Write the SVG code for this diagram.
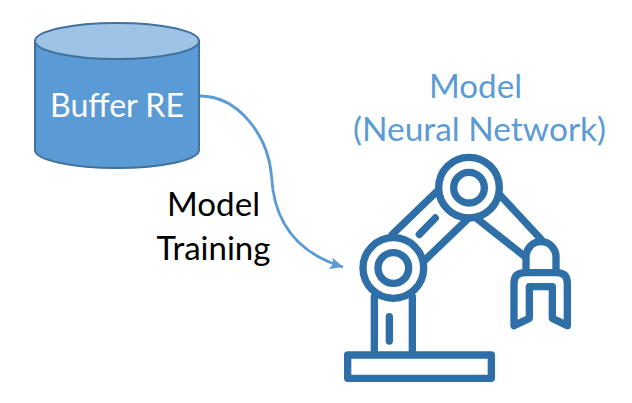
<svg xmlns="http://www.w3.org/2000/svg" width="632" height="403" viewBox="0 0 632 403">
<style>
text{font-family:Lato,"Liberation Sans",sans-serif;font-size:32px;text-anchor:middle}
.blue{fill:#5b9bd5}
.dark{fill:#000}
.r{fill:none;stroke:#2e6fa7;stroke-width:22;stroke-linecap:round;stroke-linejoin:round}
</style>
<defs><marker id="ah" markerUnits="userSpaceOnUse" markerWidth="14" markerHeight="12" refX="13" refY="6" orient="auto"><path d="M0 0L13 6L0 12L3 6Z" fill="#5b9bd5"/></marker></defs>
<g id="connectors"><path d="M200 96C238 96 268 135 271.500 176C274 225 300 254 343 267" fill="none" stroke="#5b9bd5" stroke-width="2.800" marker-end="url(#ah)"/></g>
<g id="buffer">
<path d="M35 41V150C35 160 72 168 117 168S199 160 199 150V41Z" fill="#5b9bd5" stroke="#41719c" stroke-width="2"/>
<ellipse cx="117" cy="41" rx="82" ry="18" fill="#9dc3e6" stroke="#41719c" stroke-width="2"/>
<text x="117" y="117" fill="#fff" textLength="134" lengthAdjust="spacingAndGlyphs">Buffer RE</text>
</g>
<g id="training-label">
<text class="dark" x="213.500" y="216" textLength="93" lengthAdjust="spacingAndGlyphs">Model</text>
<text class="dark" x="213.500" y="260" textLength="114" lengthAdjust="spacingAndGlyphs">Training</text>
</g>
<g id="model-label">
<text class="blue" x="475.500" y="98" textLength="93" lengthAdjust="spacingAndGlyphs">Model</text>
<text class="blue" x="479.500" y="141" textLength="253" lengthAdjust="spacingAndGlyphs">(Neural Network)</text>
</g>
<g id="robot" transform="translate(330 140) scale(.33333)">
<rect class="r" x="53" y="645" width="431" height="70"/>
<path class="r" d="M133 470V635M247 470V635M178 530V603M187 283L320 155M285 360L410 240M268 283L316 234M510 165L635 300M440 235L585 350"/>
<circle class="r" cx="190" cy="384" r="91"/><circle class="r" cx="190" cy="384" r="46"/>
<circle class="r" cx="417" cy="143" r="91"/><circle class="r" cx="417" cy="143" r="46"/>
<path class="r" d="M588 395V350A45 45 0 0 1 678 350V395"/>
<path class="r" d="M552 557V430Q552 398 585 398H680Q712 398 712 430V557L667 535V440H598V535Z"/>
</g>
</svg>
